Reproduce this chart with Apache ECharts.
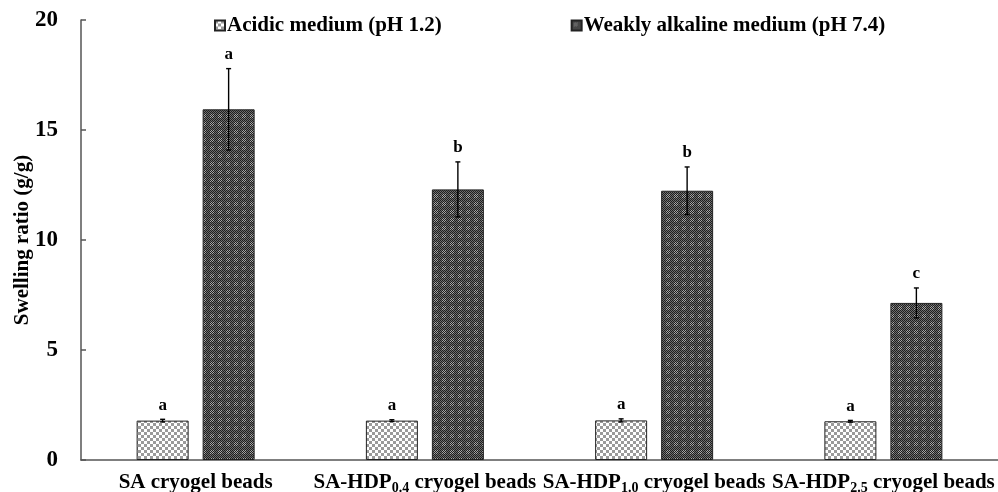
<!DOCTYPE html>
<html>
<head>
<meta charset="utf-8">
<script src="https://cdn.jsdelivr.net/npm/echarts@6/dist/echarts.min.js"></script>
<style>
html,body{margin:0;padding:0;background:#fff;}
#chart{width:998px;height:492px;}
</style>
</head>
<body>
<div id="chart"></div>
<script>
// ---- data ----
const categories = ['SA cryogel beads', 'SA-HDP0.4 cryogel beads', 'SA-HDP1.0 cryogel beads', 'SA-HDP2.5 cryogel beads'];
const seriesNames = ['Acidic medium (pH 1.2)', 'Weakly alkaline medium (pH 7.4)'];
const acidic = [1.79, 1.79, 1.80, 1.76];
const acidicErr = [0.06, 0.04, 0.07, 0.04];
const acidicLetters = ['a', 'a', 'a', 'a'];
const alkaline = [15.94, 12.30, 12.24, 7.14];
const alkalineErr = [1.85, 1.25, 1.08, 0.68];
const alkalineLetters = ['a', 'b', 'b', 'c'];
const yTicks = [0, 5, 10, 15, 20];

// ---- patterns ----
function makeAcidicPattern() {
  const c = document.createElement('canvas');
  c.width = 6; c.height = 6;
  const g = c.getContext('2d');
  g.fillStyle = '#ffffff'; g.fillRect(0, 0, 6, 6);
  g.fillStyle = '#9a9a9a';
  g.fillRect(0, 0, 3, 3); g.fillRect(3, 3, 3, 3);
  return c;
}
function makeAlkalinePattern() {
  const c = document.createElement('canvas');
  const n = 16;
  c.width = n; c.height = n;
  const g = c.getContext('2d');
  for (let i = 0; i < n; i++) {
    for (let j = 0; j < n; j++) {
      const bi = i % 8, bj = j % 8;
      const center = bi >= 2 && bi <= 5 && bj >= 2 && bj <= 5;
      const fine = (i + j) % 2 === 0;
      let col;
      if (fine) col = '#1e1e1e';
      else col = center ? '#a6a6a6' : '#6e6e6e';
      g.fillStyle = col;
      g.fillRect(i, j, 1, 1);
    }
  }
  return c;
}
const acidicFill = { image: makeAcidicPattern(), repeat: 'repeat' };
const alkalineFill = { image: makeAlkalinePattern(), repeat: 'repeat' };

const FONT = "'Liberation Serif', 'Times New Roman', serif";
const BAR_W = 52;
const BAR_GAP = 14;

function errorSeries(values, errs, letters, offsetSign) {
  return {
    type: 'custom',
    z: 10,
    silent: true,
    encode: { x: 0, y: 1 },
    data: values.map((v, i) => [i, v, errs[i], letters[i]]),
    renderItem: function (params, api) {
      const idx = api.value(0);
      const v = api.value(1);
      const e = api.value(2);
      const letter = letters[params.dataIndex];
      const c = api.coord([idx, v]);
      const x = c[0] + offsetSign * (BAR_W + BAR_GAP) / 2;
      const yTop = api.coord([idx, v + e])[1];
      const yBot = api.coord([idx, v - e])[1];
      const capW = 2.5;
      const st = { stroke: '#000', lineWidth: 1.4 };
      return {
        type: 'group',
        children: [
          { type: 'line', shape: { x1: x, y1: yTop, x2: x, y2: yBot }, style: st },
          { type: 'line', shape: { x1: x - capW, y1: yTop, x2: x + capW, y2: yTop }, style: st },
          { type: 'line', shape: { x1: x - capW, y1: yBot, x2: x + capW, y2: yBot }, style: st },
          { type: 'text', style: { text: letter, x: x, y: yTop - 14, align: 'center', verticalAlign: 'middle',
              font: 'bold 17px ' + FONT, fill: '#000' } }
        ]
      };
    }
  };
}

const chart = echarts.init(document.getElementById('chart'));
chart.setOption({
  animation: false,
  backgroundColor: '#fff',
  grid: { left: 81, right: 0, top: 20, bottom: 32, containLabel: false, outerBoundsMode: 'none' },
  legend: {
    data: seriesNames,
    left: 209, top: 10,
    icon: 'rect',
    itemWidth: 10, itemHeight: 10,
    itemGap: 129,
    textStyle: { fontFamily: FONT, fontWeight: 'bold', fontSize: 21, color: '#000', padding: [0, 0, 0, -3] }
  },
  xAxis: {
    type: 'category',
    data: categories,
    axisTick: { show: false },
    axisLine: { lineStyle: { color: '#555', width: 1.5 } },
    axisLabel: {
      interval: 0,
      margin: 11,
      lineHeight: 24,
      fontFamily: FONT, fontWeight: 'bold', fontSize: 21, color: '#000',
      formatter: function (s) { return s.replace(/HDP([\d.]+)/, 'HDP{sub|$1}'); },
      rich: { sub: { fontFamily: FONT, fontWeight: 'bold', fontSize: 14, lineHeight: 14, color: '#000', verticalAlign: 'bottom' } }
    }
  },
  yAxis: {
    type: 'value',
    min: yTicks[0], max: yTicks[yTicks.length - 1], interval: 5,
    splitLine: { show: false },
    axisLine: { show: true, lineStyle: { color: '#555', width: 1.5 } },
    axisTick: { show: true, inside: true, length: 5, lineStyle: { color: '#555', width: 1.5 } },
    axisLabel: { margin: 23, fontFamily: FONT, fontWeight: 'bold', fontSize: 23, color: '#000' },
    name: 'Swelling ratio (g/g)',
    nameLocation: 'middle',
    nameGap: 48,
    nameMoveOverlap: false,
    nameRotate: 90,
    nameTextStyle: { fontFamily: FONT, fontWeight: 'bold', fontSize: 21, color: '#000' }
  },
  series: [
    { name: seriesNames[0], type: 'bar', data: acidic, barWidth: BAR_W, barGap: (BAR_GAP / BAR_W * 100) + '%',
      itemStyle: { color: acidicFill, borderColor: '#222', borderWidth: 1 } },
    { name: seriesNames[1], type: 'bar', data: alkaline, barWidth: BAR_W,
      itemStyle: { color: alkalineFill, borderColor: '#222', borderWidth: 1 } },
    errorSeries(acidic, acidicErr, acidicLetters, -1),
    errorSeries(alkaline, alkalineErr, alkalineLetters, 1)
  ]
});
</script>
</body>
</html>
